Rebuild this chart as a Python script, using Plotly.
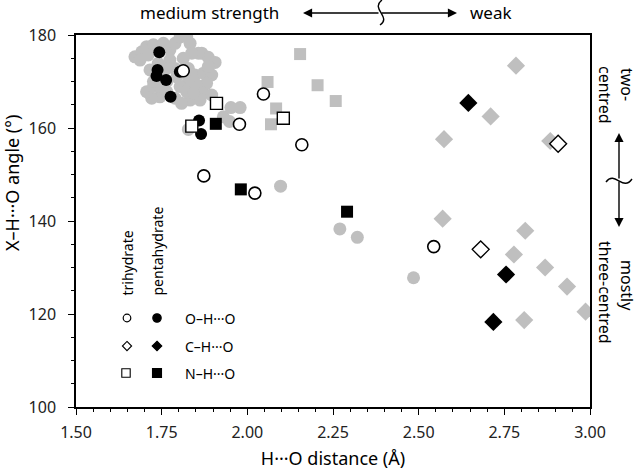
import plotly.graph_objects as go

# ---------------- data ----------------
# grey background points (other structures)
grey_oh_x = [1.672, 1.692, 1.706, 1.726, 1.711, 1.755, 1.774, 1.789, 1.804, 1.823,
             1.833, 1.813, 1.867, 1.886, 1.906, 1.774, 1.789, 1.828, 1.847, 1.872,
             1.896, 1.881, 1.852, 1.828, 1.804, 1.872, 1.896, 1.862, 1.833, 1.808,
             1.789, 1.745, 1.721, 1.706, 1.726, 1.745, 1.726, 1.750, 1.765, 1.716,
             1.740, 1.687, 1.823, 1.843, 1.930, 1.948, 1.952, 1.979, 1.828, 1.857,
             1.838, 1.794, 1.765, 1.886, 1.765,
             2.097, 2.270, 2.321, 2.485]
grey_oh_y = [175.3, 176.4, 177.5, 177.9, 175.7, 178.2, 176.8, 178.2, 179.6, 179.6,
             178.2, 175.0, 176.1, 175.2, 174.1, 174.6, 172.8, 172.8, 171.4, 171.8,
             171.4, 169.6, 169.3, 170.0, 168.9, 167.5, 167.1, 166.0, 166.0, 165.3,
             166.4, 166.7, 166.4, 167.8, 168.9, 168.9, 170.0, 171.8, 172.8, 172.5,
             173.9, 174.6, 167.8, 167.5, 162.4, 161.4, 164.4, 164.4, 159.7, 176.1,
             176.1, 171.0, 170.0, 173.2, 167.8,
             147.5, 138.3, 136.5, 127.8]
grey_nh_x = [2.154, 2.059, 2.084, 2.069, 2.205, 2.258]
grey_nh_y = [175.9, 169.9, 164.2, 160.8, 169.2, 165.8]
grey_ch_x = [2.784, 2.710, 2.574, 2.884, 2.570, 2.811, 2.778, 2.869, 2.933, 2.987, 2.808]
grey_ch_y = [173.4, 162.5, 157.6, 157.2, 140.5, 137.9, 132.8, 130.0, 125.9, 120.5, 118.7]

# pentahydrate (filled black)
penta_oh_x = [1.743, 1.738, 1.735, 1.763, 1.776, 1.859, 1.865, 1.803]
penta_oh_y = [176.3, 172.5, 171.2, 170.3, 166.7, 161.6, 158.7, 172.1]
penta_ch_x = [2.645, 2.755, 2.718]
penta_ch_y = [165.4, 128.5, 118.3]
penta_nh_x = [1.908, 1.981, 2.291]
penta_nh_y = [160.9, 146.8, 142.0]

# trihydrate (open)
tri_oh_x = [1.813, 2.047, 1.977, 2.159, 1.873, 2.022, 2.544]
tri_oh_y = [172.3, 167.3, 160.8, 156.4, 149.7, 146.0, 134.5]
tri_ch_x = [2.681, 2.907]
tri_ch_y = [133.9, 156.6]
tri_nh_x = [1.910, 1.838, 2.105]
tri_nh_y = [165.3, 160.4, 162.1]

x_ticks = [1.50, 1.75, 2.00, 2.25, 2.50, 2.75, 3.00]
y_ticks = [100, 120, 140, 160, 180]

GREY = "#bfbfbf"
FONT = "Noto Sans"

fig = go.Figure()

def add(xs, ys, symbol, size, fill, line_w=0):
    fig.add_trace(go.Scatter(
        x=xs, y=ys, mode="markers", showlegend=False, hoverinfo="skip",
        marker=dict(symbol=symbol, size=size, color=fill,
                    line=dict(color="black", width=line_w))))

add(grey_oh_x, grey_oh_y, "circle", 13, GREY)
add(grey_nh_x, grey_nh_y, "square", 12, GREY)
add(grey_ch_x, grey_ch_y, "diamond", 14, GREY)

add(penta_oh_x, penta_oh_y, "circle", 12, "black")
add(tri_oh_x, tri_oh_y, "circle", 12, "white", 1.6)
add(penta_ch_x, penta_ch_y, "diamond", 14, "black")
add(tri_ch_x, tri_ch_y, "diamond", 13, "white", 1.4)
add(tri_nh_x, tri_nh_y, "square", 12, "white", 1.4)
add(penta_nh_x, penta_nh_y, "square", 12, "black")

FW, FH = 640, 470
# plot box in pixels
L, R, T, B = 76, 590, 35, 407
W, H = R - L, B - T


def fx(px):
    return (px - L) / W


def fy(py):
    return (B - py) / H


ann = []
shapes = []


def text(t, px, py, size, angle=0, xa="center", ya="middle"):
    ann.append(dict(text=t, x=fx(px), y=fy(py), xref="paper", yref="paper",
                    showarrow=False, textangle=angle, xanchor=xa, yanchor=ya,
                    font=dict(size=size, family=FONT, color="black")))


# axis title (y)
text("X\u2013H\u00b7\u00b7\u00b7O angle (\u00b0)", 12, 183, 18, -90)

# top annotation
text("medium strength", 209, 12, 17)
text("weak", 491, 12, 17)
for xe, axo in [(303, 77), (457, -77)]:
    ann.append(dict(text="", x=fx(xe), y=fy(13), xref="paper", yref="paper",
                    showarrow=True, ax=axo, ay=0, arrowhead=2, arrowsize=1.3,
                    arrowwidth=1.4, arrowcolor="black"))
shapes.append(dict(type="path", xref="paper", yref="paper",
                   path="M {:.4f},{:.4f} C {:.4f},{:.4f} {:.4f},{:.4f} {:.4f},{:.4f}".format(
                       fx(382), fy(0), fx(370), fy(9), fx(392), fy(17), fx(380), fy(25)),
                   line=dict(color="black", width=1.4)))

# right annotation
for txt, cx, cy in [("two-", 627, 84), ("centred", 605, 95),
                    ("mostly", 627, 285), ("three-centred", 605, 292)]:
    text(txt, cx, cy, 16, 90)
for ye, ayo in [(133, 47), (227, -47)]:
    ann.append(dict(text="", x=fx(619), y=fy(ye), xref="paper", yref="paper",
                    showarrow=True, ax=0, ay=ayo, arrowhead=2, arrowsize=1.3,
                    arrowwidth=1.4, arrowcolor="black"))
shapes.append(dict(type="path", xref="paper", yref="paper",
                   path="M {:.4f},{:.4f} C {:.4f},{:.4f} {:.4f},{:.4f} {:.4f},{:.4f}".format(
                       fx(606), fy(182), fx(615), fy(170), fx(623), fy(192), fx(632), fy(179)),
                   line=dict(color="black", width=1.4)))

# in-plot legend
text("trihydrate", 127, 298, 14, -90, "center", "bottom")
text("pentahydrate", 157, 298, 14, -90, "center", "bottom")
for txt, cy in [("O\u2013H\u00b7\u00b7\u00b7O", 318), ("C\u2013H\u00b7\u00b7\u00b7O", 346),
                ("N\u2013H\u00b7\u00b7\u00b7O", 373)]:
    text(txt, 183, cy, 14, 0, "left", "middle")


def circ(cx, cy, r, fill):
    shapes.append(dict(type="circle", xref="paper", yref="paper",
                       x0=fx(cx - r), x1=fx(cx + r), y0=fy(cy + r), y1=fy(cy - r),
                       fillcolor=fill, line=dict(color="black", width=1.2)))


def diam(cx, cy, r, fill):
    shapes.append(dict(type="path", xref="paper", yref="paper",
                       path="M {:.4f},{:.4f} L {:.4f},{:.4f} L {:.4f},{:.4f} L {:.4f},{:.4f} Z".format(
                           fx(cx), fy(cy - r), fx(cx + r), fy(cy), fx(cx), fy(cy + r), fx(cx - r), fy(cy)),
                       fillcolor=fill, line=dict(color="black", width=1.1)))


def sq(cx, cy, r, fill):
    shapes.append(dict(type="rect", xref="paper", yref="paper",
                       x0=fx(cx - r), x1=fx(cx + r), y0=fy(cy + r), y1=fy(cy - r),
                       fillcolor=fill, line=dict(color="black", width=1.1)))


circ(127, 318, 3.8, "white")
circ(157, 318, 4.2, "black")
diam(127, 346, 4.6, "white")
diam(157, 346, 4.8, "black")
sq(126, 373, 4.2, "white")
sq(157, 373, 4.5, "black")

axis_common = dict(showline=True, linecolor="black", linewidth=1.5, mirror=True,
                   showgrid=False, zeroline=False, ticks="outside", ticklen=6,
                   tickwidth=1.3, tickcolor="black", automargin=False,
                   tickfont=dict(size=16, family=FONT, color="#222"))

fig.update_layout(
    width=FW, height=FH,
    margin=dict(l=L, r=FW - R, t=T, b=FH - B, autoexpand=False),
    paper_bgcolor="white", plot_bgcolor="white",
    xaxis=dict(range=[1.5, 3.0], tickvals=x_ticks,
               ticktext=["%.2f" % v for v in x_ticks], ticklabelstandoff=4,
               minor=dict(dtick=0.05, ticks="outside", ticklen=3.5, tickwidth=1, tickcolor="black"),
               title=dict(text="H\u00b7\u00b7\u00b7O distance (\u00c5)", standoff=12,
                          font=dict(size=18, family=FONT, color="black")),
               **axis_common),
    yaxis=dict(range=[100, 180], tickvals=y_ticks, ticklabelstandoff=9,
               minor=dict(dtick=5, ticks="outside", ticklen=3.5, tickwidth=1, tickcolor="black"),
               **axis_common),
    annotations=ann, shapes=shapes,
)

fig.write_html("out.html", config={"displayModeBar": False},
               post_script="document.body.style.margin='0';document.body.style.overflow='hidden';")
